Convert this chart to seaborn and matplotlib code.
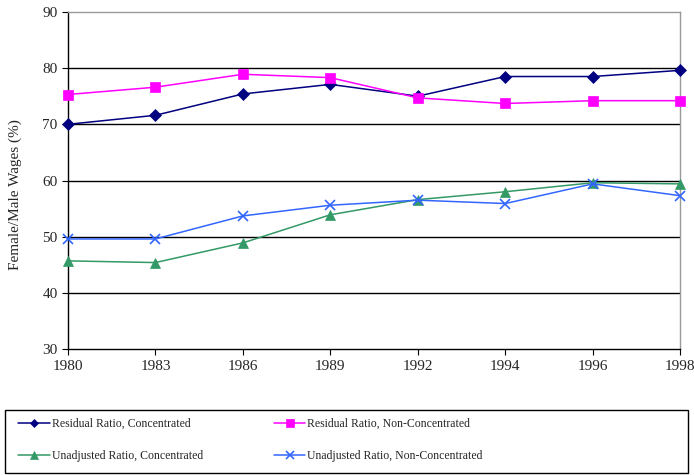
import numpy as np
import pandas as pd
import matplotlib
matplotlib.use("Agg")
import matplotlib.pyplot as plt
from matplotlib.patches import Rectangle
import seaborn as sns

years = ["1980", "1983", "1986", "1989", "1992", "1994", "1996", "1998"]
resid_conc = [70.0, 71.6, 75.4, 77.1, 75.0, 78.5, 78.5, 79.6]
resid_nonconc = [75.3, 76.6, 78.9, 78.3, 74.7, 73.7, 74.2, 74.2]
unadj_conc = [45.7, 45.4, 48.9, 53.9, 56.6, 58.0, 59.6, 59.4]
unadj_nonconc = [49.6, 49.6, 53.7, 55.6, 56.5, 55.9, 59.4, 57.3]

series = [
    ("Residual Ratio, Concentrated", resid_conc, "#000080", "D", 6),
    ("Residual Ratio, Non-Concentrated", resid_nonconc, "#FF00FF", "s", 7),
    ("Unadjusted Ratio, Concentrated", unadj_conc, "#339966", "^", 7),
    ("Unadjusted Ratio, Non-Concentrated", unadj_nonconc, "#3366FF", "x", 7),
]

sns.set_style("white")
plt.rcParams['font.family'] = ['Liberation Serif', 'DejaVu Serif']

fig = plt.figure(figsize=(6.94, 4.75), dpi=100)
ax = fig.add_axes([0.098, 0.265, 0.882, 0.71])

pos = np.arange(len(years))
for label, vals, color, marker, ms in series:
    sns.lineplot(x=pos, y=vals, ax=ax, color=color, marker=marker, markersize=ms,
                 markeredgecolor=color, markeredgewidth=1.2 if marker == "x" else 0.5,
                 linewidth=1.1, label=label, legend=False, clip_on=False, zorder=3)

ax.set_xlim(0, len(years) - 1)
ax.set_ylim(30, 90)
ax.set_yticks(range(30, 91, 10))
ax.set_xticks(pos)
ax.set_xticklabels(years)
ax.tick_params(axis='both', labelsize=11, length=4, direction='out', color='black',
               bottom=True, left=True)
for y in range(40, 90, 10):
    ax.axhline(y, color='black', linewidth=1, zorder=0)
ax.set_ylabel("Female/Male Wages (%)", fontsize=11)
ax.yaxis.set_label_coords(-0.075, 0.457)
for s in ['left', 'bottom']:
    ax.spines[s].set_color('black')
    ax.spines[s].set_linewidth(1)
for s in ['top', 'right']:
    ax.spines[s].set_color('#999999')
    ax.spines[s].set_linewidth(1)

# legend box drawn separately so it spans the full width
fig.add_artist(Rectangle((5 / 694, 2 / 475), 683 / 694, 63 / 475, transform=fig.transFigure,
                         fill=False, edgecolor='black', linewidth=1))
handles, labels = ax.get_legend_handles_labels()
order = [0, 2, 1, 3]
leg = fig.legend([handles[i] for i in order], [labels[i] for i in order],
                 loc='upper left', ncol=2, bbox_to_anchor=(18 / 694, 1 - 418 / 475),
                 frameon=False, fontsize=8.5, handlelength=2.7, handletextpad=0.15,
                 columnspacing=6.0, borderpad=0, borderaxespad=0, labelspacing=1.7,
                 markerscale=0.75)

fig.savefig("out.png", dpi=100)
